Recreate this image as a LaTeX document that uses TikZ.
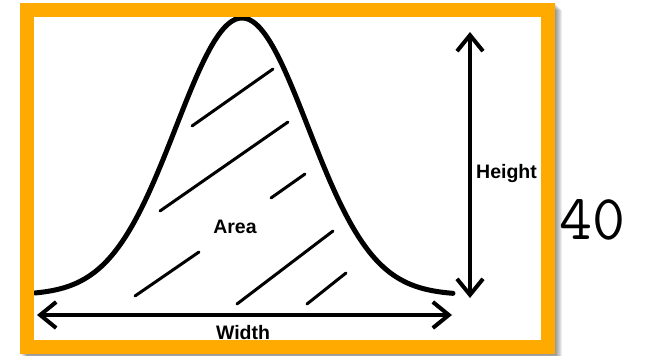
\documentclass[tikz,border=0pt]{standalone}
\usepackage{fontspec}
\setmainfont{Liberation Sans}
\usetikzlibrary{arrows.meta,positioning}
\definecolor{frameorange}{RGB}{254,170,0}

\begin{document}
\begin{tikzpicture}[
  x=1pt, y=-1pt,
  bell/.style={line width=5pt, line cap=round},
  hatch/.style={line width=3pt, line cap=round},
  dimarrow/.style={{Straight Barb[length=16pt,width=26pt]}-{Straight Barb[length=16pt,width=26pt]}, line width=4pt},
  dimlabel/.style={font=\bfseries\fontsize{19.5}{20}\selectfont, inner sep=0pt},
]
\useasboundingbox (0,0) rectangle (654,356);

% drop shadow of the frame
\foreach \i in {1,...,7}
  \fill[black, opacity=0.07] (20+\i,3+\i) rectangle (555+\i,354+\i);
\fill[white] (20,3) rectangle (555,354);

% bell curve
\draw[bell] plot[smooth, domain=35:453, samples=120] (\x, {295-277*exp(-((\x-242)/93.34)^2)});

% hatching
\foreach \ax/\ay/\bx/\by in {192/126/273/69, 160/211/288/122, 271/198/305/174,
                             135/296/199/252, 237/304/333/231, 307/304/346/273}
  \draw[hatch] (\ax,\ay) -- (\bx,\by);

\node[dimlabel, anchor=base] (area) at (235,233) {Area};

% width
\coordinate (wleft) at (37,315);
\coordinate (wright) at (452,315);
\draw[dimarrow] (wleft) -- (wright);
\node[dimlabel, anchor=base] (width) at (243,339) {Width};

% height
\coordinate (htop) at (470,32);
\coordinate (hbot) at (470,298);
\draw[dimarrow] (htop) -- (hbot);
\node[dimlabel, anchor=base west] (height) at (476,178) {Height};

% frame
\draw[frameorange, line width=14pt] (27,9.5) rectangle (548,347);

\node[font=\ttfamily\fontsize{64}{64}\selectfont, inner sep=0pt, anchor=base] (count) at (592,239) {40};
\end{tikzpicture}
\end{document}
